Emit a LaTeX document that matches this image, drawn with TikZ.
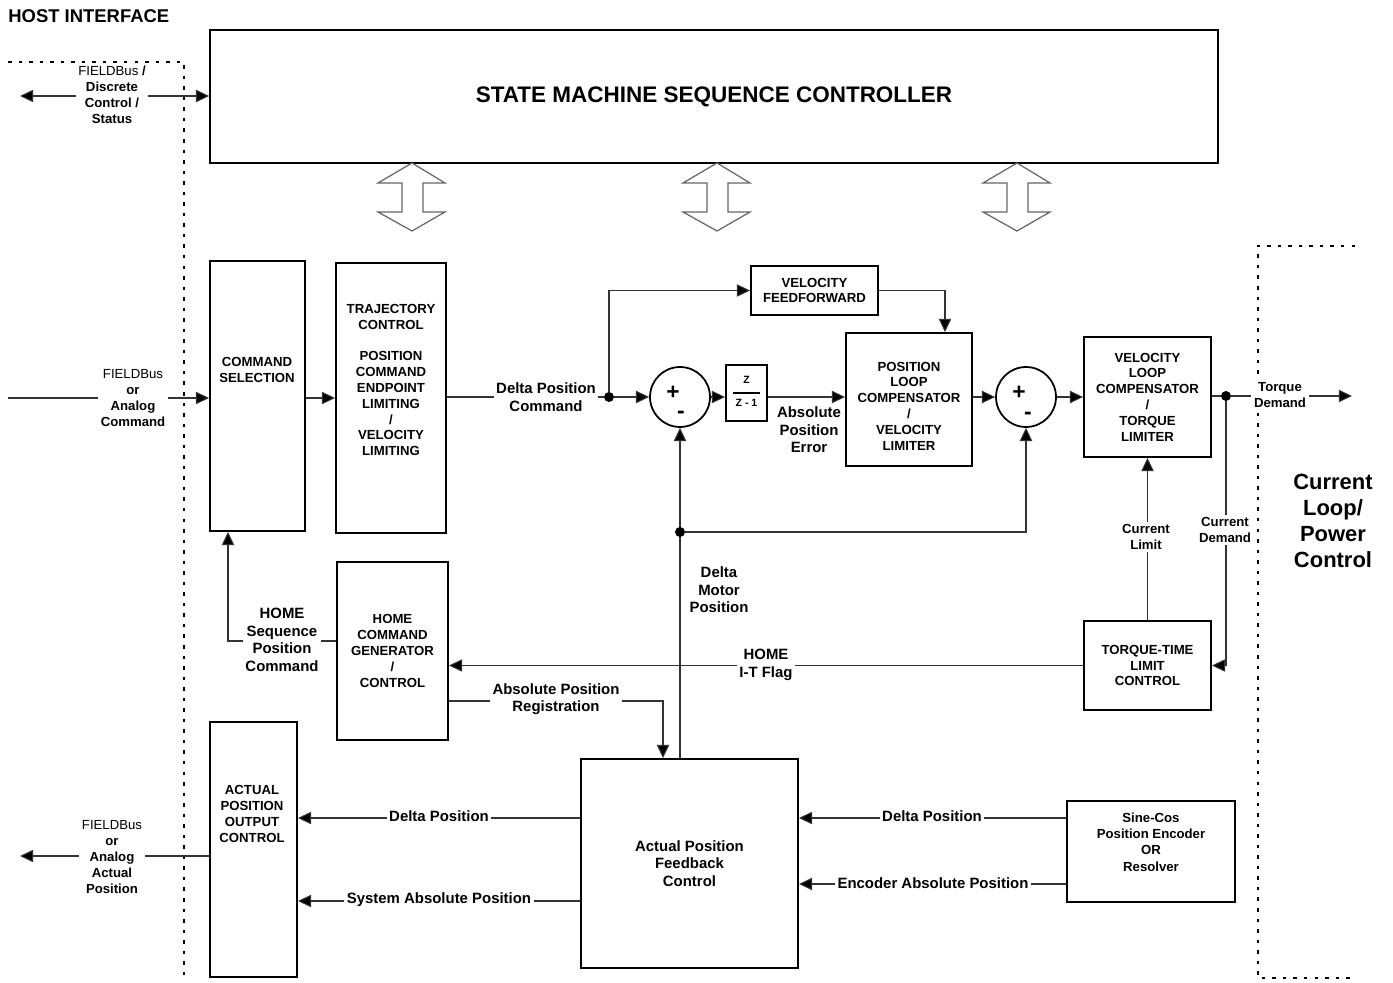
\documentclass[tikz,border=0pt]{standalone}
\usepackage{fontspec}
\setmainfont{Liberation Sans}
\usetikzlibrary{arrows.meta}

\newcommand{\boxfont}{\fontsize{7.5}{9}\selectfont\bfseries}
\newcommand{\lblfont}{\fontsize{8.5}{10}\selectfont\bfseries}
\newcommand{\sidefont}{\fontsize{7.5}{9.2}\selectfont\bfseries}

\tikzset{
  blk/.style={draw, line width=1.1pt, inner sep=1pt, align=center, font=\boxfont},
  boxtxt/.style={align=center, font=\boxfont, inner sep=0pt},
  sumj/.style={draw, circle, line width=1pt, minimum size=1.2cm, inner sep=0pt},
  sgn/.style={font=\fontsize{13}{13}\selectfont\bfseries, inner sep=0pt},
  wire/.style={draw=black!80, line width=0.6pt},
  arr/.style={wire, -{Triangle[length=7.5pt,width=7pt,fill=black]}},
  lbl/.style={fill=white, inner sep=1.5pt, align=center, font=\lblfont},
  slbl/.style={lbl, font=\sidefont},
  dot/.style={circle, fill, inner sep=0pt, minimum size=0.2cm},
  bdry/.style={line width=1.2pt, dash pattern=on 2pt off 4pt},
  dblarr/.style={draw=black!60, line width=0.7pt},
}

\begin{document}
\begin{tikzpicture}[x=0.02cm, y=-0.02cm]
  \useasboundingbox (0,0) rectangle (1393,983);

  % interface boundaries
  \node[anchor=west, inner sep=0pt, font=\fontsize{10.5}{12}\selectfont\bfseries] (hosttitle) at (8,16) {HOST INTERFACE};
  \draw[bdry] (8,62) -- (184,62) -- (184,975);
  \draw[bdry] (1355,246) -- (1258,246) -- (1258,978) -- (1355,978);
  \node[align=center, font=\fontsize{12.5}{14.7}\selectfont\bfseries] (cltext) at (1333,521) {Current\\Loop/\\Power\\Control};

  % state machine and its three links
  \node[blk, minimum width=20.16cm, minimum height=2.66cm, font=\fontsize{12.8}{14}\selectfont\bfseries] (sm) at (714,96.5) {STATE MACHINE SEQUENCE CONTROLLER};
  \foreach \bx in {412,717,1017}
    \draw[dblarr] (\bx,163) -- ++(33,20) -- ++(-22,0) -- ++(0,29) -- ++(22,0) -- ++(-33,19)
      -- ++(-34,-19) -- ++(24,0) -- ++(0,-29) -- ++(-24,0) -- cycle;

  % blocks
  \node[blk, minimum width=1.9cm, minimum height=5.4cm] (cmdsel) at (257.5,396) {};
  \node[boxtxt] (cmdseltxt) at (257,370) {COMMAND\\SELECTION};
  \node[blk, minimum width=2.2cm, minimum height=5.4cm] (traj) at (391,398) {};
  \node[boxtxt] (trajtxt) at (391,380) {TRAJECTORY\\CONTROL\\[9pt]POSITION\\COMMAND\\ENDPOINT\\LIMITING\\/\\VELOCITY\\LIMITING};
  \node[blk, minimum width=2.54cm, minimum height=0.98cm] (vff) at (814.5,290.5) {VELOCITY\\FEEDFORWARD};
  \node[sumj] (sum1) at (680,397) {};
  \node[sgn] (sum1p) at ([shift={(-0.14cm,0.08cm)}]sum1.center) {+};
  \node[sgn] (sum1m) at ([shift={(0.02cm,-0.36cm)}]sum1.center) {-};
  \node[blk, minimum width=0.82cm, minimum height=1.12cm] (zb) at (746.5,393) {};
  \node[inner sep=0pt, font=\fontsize{6}{7}\selectfont\bfseries] (zt) at ([yshift=0.26cm]zb.center) {Z};
  \draw[line width=0.8pt] ([xshift=-0.27cm]zb.center) -- ([xshift=0.27cm]zb.center);
  \node[inner sep=0pt, font=\fontsize{6}{7}\selectfont\bfseries] (zbot) at ([yshift=-0.2cm]zb.center) {Z - 1};
  \node[blk, minimum width=2.52cm, minimum height=2.66cm] (plc) at (909,399.5) {};
  \node[boxtxt] (plctxt) at (909,406) {POSITION\\LOOP\\COMPENSATOR\\/\\VELOCITY\\LIMITER};
  \node[sumj] (sum2) at (1026,397) {};
  \node[sgn] (sum2p) at ([shift={(-0.14cm,0.08cm)}]sum2.center) {+};
  \node[sgn] (sum2m) at ([shift={(0.04cm,-0.38cm)}]sum2.center) {-};
  \node[blk, minimum width=2.54cm, minimum height=2.4cm] (vlc) at (1147.5,397) {VELOCITY\\LOOP\\COMPENSATOR\\/\\TORQUE\\LIMITER};
  \node[blk, minimum width=2.54cm, minimum height=1.78cm] (ttl) at (1147.5,665.5) {TORQUE-TIME\\LIMIT\\CONTROL};
  \node[blk, minimum width=2.22cm, minimum height=3.56cm] (hcg) at (392.5,651) {HOME\\COMMAND\\GENERATOR\\/\\CONTROL};
  \node[blk, minimum width=4.34cm, minimum height=4.18cm, font=\lblfont] (apfc) at (689.5,863.5) {Actual Position\\Feedback\\Control};
  \node[blk, minimum width=1.74cm, minimum height=5.1cm] (apoc) at (253.5,849.5) {};
  \node[boxtxt] (apoctxt) at (252,814) {ACTUAL\\POSITION\\OUTPUT\\CONTROL};
  \node[blk, minimum width=3.36cm, minimum height=2.02cm] (sc) at (1151,851.5) {};
  \node[boxtxt, font=\fontsize{7.5}{9.3}\selectfont\bfseries] (sctxt) at (1151,842) {Sine-Cos\\Position Encoder\\OR\\Resolver};

  % host links
  \coordinate (hostL) at (20,96);
  \draw[wire, {Triangle[length=7.5pt,width=7pt,fill=black]}-{Triangle[length=7.5pt,width=7pt,fill=black]}] (hostL) -- (sm.west |- hostL);
  \node[slbl] (hostlbl) at (112,95) {{\mdseries FIELDBus} /\\Discrete\\Control /\\Status};
  \coordinate (cmdin) at (8,398);
  \draw[arr] (cmdin) -- (cmdin -| cmdsel.west);
  \node[slbl] (cmdlbl) at (133,398) {{\mdseries FIELDBus}\\or\\Analog\\Command};
  \coordinate (posout) at (20,856);
  \draw[arr] (apoc.west |- posout) -- (posout);
  \node[slbl] (poslbl) at (112,857) {{\mdseries FIELDBus}\\or\\Analog\\Actual\\Position};

  % forward path
  \draw[arr] (cmdsel.east |- traj.west) -- (traj.west);
  \node[dot] (dpc) at (609,397) {};
  \draw[wire] (traj.east |- dpc) -- (dpc);
  \draw[arr] (dpc) -- (sum1.west);
  \node[lbl] (dpclbl) at (546,397) {Delta Position\\Command};
  \draw[arr] (dpc) |- (vff.west);
  \draw[arr] (vff.east) -| ([xshift=0.72cm]plc.north);
  \draw[arr] (sum1.east) -- (zb.west |- sum1.east);
  \draw[arr] (zb.east |- sum1.east) -- (plc.west |- sum1.east);
  \node[lbl] (abslbl) at (809,430) {Absolute\\Position\\Error};
  \draw[arr] (plc.east |- sum2.west) -- (sum2.west);
  \draw[arr] (sum2.east) -- (vlc.west |- sum2.east);
  \node[dot] (tqd) at (1226,396) {};
  \draw[wire] (vlc.east |- tqd) -- (tqd);
  \coordinate (tqout) at (1352,396);
  \draw[arr] (tqd) -- (tqout);
  \node[slbl] (tqlbl) at (1280,395) {Torque\\Demand};

  % torque limiting
  \draw[arr] (tqd) |- (ttl.east);
  \node[slbl] (cdlbl) at (1225,530) {Current\\Demand};
  \draw[arr] (ttl.north) -- (vlc.south);
  \node[slbl] (cllbl) at (1146,537) {Current\\Limit};
  \draw[arr] (ttl.west) -- (ttl.west -| hcg.east);
  \node[lbl] (itlbl) at (766,665) {HOME\\I-T Flag};

  % feedback
  \draw[arr] (apfc.north -| sum1.south) -- (sum1.south);
  \node[dot] (dmp) at (680,532) {};
  \draw[arr] (dmp) -| (sum2.south);
  \node[align=center, font=\lblfont] (dmplbl) at (719,590) {Delta\\Motor\\Position};

  % homing
  \draw[arr] ([yshift=0.2cm]hcg.west) -| ([xshift=-0.59cm]cmdsel.south);
  \node[lbl] (hsplbl) at (282,640) {HOME\\Sequence\\Position\\Command};
  \draw[arr] ([yshift=-1cm]hcg.east) -| ([xshift=-0.53cm]apfc.north);
  \node[lbl] (arlbl) at (556,699) {Absolute Position\\Registration};

  % position outputs and encoder
  \draw[arr] ([yshift=0.91cm]apfc.west) -- ([yshift=0.91cm]apfc.west -| apoc.east);
  \node[lbl] (dp1lbl) at (439,816) {Delta Position};
  \draw[arr] ([yshift=-0.75cm]apfc.west) -- ([yshift=-0.75cm]apfc.west -| apoc.east);
  \node[lbl] (saplbl) at (439,900) {System Absolute Position};
  \draw[arr] ([yshift=0.67cm]sc.west) -- ([yshift=0.67cm]sc.west -| apfc.east);
  \node[lbl] (dp2lbl) at (932,816) {Delta Position};
  \draw[arr] ([yshift=-0.65cm]sc.west) -- ([yshift=-0.65cm]sc.west -| apfc.east);
  \node[lbl] (eaplbl) at (933,883) {Encoder Absolute Position};
\end{tikzpicture}
\end{document}
